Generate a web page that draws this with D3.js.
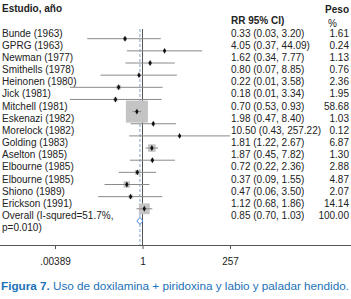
<!DOCTYPE html>
<html>
<head>
<meta charset="utf-8">
<script src="https://cdn.jsdelivr.net/npm/d3@7"></script>
<style>
  body { margin: 0; background: #fff; }
  text { font-family: "Liberation Sans", Arial, sans-serif; }
</style>
</head>
<body>
<div id="chart"></div>
<script>
const studies = ["Bunde (1963)", "GPRG (1963)", "Newman (1977)", "Smithells (1978)", "Heinonen (1980)",
  "Jick (1981)", "Mitchell (1981)", "Eskenazi (1982)", "Morelock (1982)", "Golding (1983)",
  "Aselton (1985)", "Elbourne (1985)", "Elbourne (1985)", "Shiono (1989)", "Erickson (1991)"];
const rr = [0.33, 4.05, 1.62, 0.80, 0.22, 0.18, 0.70, 1.98, 10.50, 1.81, 1.87, 0.72, 0.37, 0.47, 1.12];
const lo = [0.03, 0.37, 0.34, 0.07, 0.01, 0.01, 0.53, 0.47, 0.43, 1.22, 0.45, 0.22, 0.09, 0.06, 0.68];
const hi = [3.20, 44.09, 7.77, 8.85, 3.58, 3.34, 0.93, 8.40, 257.22, 2.67, 7.82, 2.36, 1.55, 3.50, 1.86];
const weight = [1.61, 0.24, 1.13, 0.76, 2.36, 1.95, 58.68, 1.03, 0.12, 6.87, 1.30, 2.88, 4.87, 2.07, 14.14];
const overall = { rr: 0.85, lo: 0.70, hi: 1.03, weight: 100.00 };
const tickValues = [0.00389, 1, 257];
const tickLabels = [".00389", "1", "257"];

const W = 351, H = 299;
const svg = d3.select("#chart").append("svg")
  .attr("width", W).attr("height", H);

const x = d3.scaleLog().domain([0.00389, 257]).range([55, 230]);
const y = d3.scaleLinear().domain([0, 15]).range([38.7, 38.7 + 12.15 * 15]);
const axisY = 245;
const fmt = d3.format(".2f");

// headers
svg.append("text").attr("x", 2).attr("y", 12)
  .style("font-size", "10px").style("font-weight", "bold").attr("fill", "#222")
  .text("Estudio, año");
svg.append("text").attr("x", 231).attr("y", 24)
  .style("font-size", "10px").style("font-weight", "bold").attr("fill", "#222")
  .text("RR 95% CI)");
svg.append("text").attr("x", 349).attr("y", 13).attr("text-anchor", "end")
  .style("font-size", "10px").style("font-weight", "bold").attr("fill", "#222")
  .text("Peso");
svg.append("text").attr("x", 337).attr("y", 27).attr("text-anchor", "end")
  .style("font-size", "10px").attr("fill", "#222")
  .text("%");

// reference lines
svg.append("line")
  .attr("x1", x(overall.rr)).attr("x2", x(overall.rr))
  .attr("y1", 29).attr("y2", axisY)
  .attr("stroke", "#9bb3d9").attr("stroke-width", 1.2).attr("stroke-dasharray", "3,2");
svg.append("line")
  .attr("x1", x(1)).attr("x2", x(1))
  .attr("y1", 29).attr("y2", axisY)
  .attr("stroke", "#555").attr("stroke-width", 1);

// study rows
const rows = studies.map((s, i) => ({ s, rr: rr[i], lo: lo[i], hi: hi[i], w: weight[i], i }));

const g = svg.append("g");
g.selectAll("rect.box").data(rows).join("rect")
  .attr("class", "box")
  .attr("x", d => x(d.rr) - Math.sqrt(d.w) * 1.44)
  .attr("y", d => y(d.i) - Math.sqrt(d.w) * 1.44)
  .attr("width", d => Math.sqrt(d.w) * 2.88)
  .attr("height", d => Math.sqrt(d.w) * 2.88)
  .attr("fill", "#c4c4c4");

g.selectAll("line.ci").data(rows).join("line")
  .attr("class", "ci")
  .attr("x1", d => x(d.lo)).attr("x2", d => x(d.hi))
  .attr("y1", d => y(d.i)).attr("y2", d => y(d.i))
  .attr("stroke", "#8a8a8a").attr("stroke-width", 1);

g.selectAll("path.pt").data(rows).join("path")
  .attr("class", "pt")
  .attr("transform", d => `translate(${x(d.rr)},${y(d.i)})`)
  .attr("d", d3.symbol(d3.symbolDiamond, 10))
  .attr("fill", "#111");

g.selectAll("text.lab").data(rows).join("text")
  .attr("class", "lab")
  .attr("x", 2).attr("y", d => y(d.i) - 2)
  .style("font-size", "10px").attr("fill", "#222")
  .text(d => d.s);

g.selectAll("text.est").data(rows).join("text")
  .attr("class", "est")
  .attr("x", 231).attr("y", d => y(d.i) - 2)
  .style("font-size", "10px").attr("fill", "#222")
  .text(d => `${fmt(d.rr)} (${fmt(d.lo)}, ${fmt(d.hi)})`);

g.selectAll("text.wt").data(rows).join("text")
  .attr("class", "wt")
  .attr("x", 349).attr("y", d => y(d.i) - 2).attr("text-anchor", "end")
  .style("font-size", "10px").attr("fill", "#222")
  .text(d => fmt(d.w));

// overall
const oy = y(15);
svg.append("path")
  .attr("d", `M${x(overall.lo)},${oy} L${x(overall.rr)},${oy - 3.5} L${x(overall.hi)},${oy} L${x(overall.rr)},${oy + 3.5} Z`)
  .attr("fill", "#fff").attr("stroke", "#4a86cf").attr("stroke-width", 1);
svg.append("text").attr("x", 2).attr("y", oy - 2)
  .style("font-size", "10px").attr("fill", "#222")
  .text("Overall (I-squred=51.7%,");
svg.append("text").attr("x", 2).attr("y", oy + 10)
  .style("font-size", "10px").attr("fill", "#222")
  .text("p=0.010)");
svg.append("text").attr("x", 231).attr("y", oy - 2)
  .style("font-size", "10px").attr("fill", "#222")
  .text(`${fmt(overall.rr)} (${fmt(overall.lo)}, ${fmt(overall.hi)})`);
svg.append("text").attr("x", 349).attr("y", oy - 2).attr("text-anchor", "end")
  .style("font-size", "10px").attr("fill", "#222")
  .text(fmt(overall.weight));

// axis
svg.append("line").attr("x1", 0).attr("x2", W).attr("y1", axisY + 0.5).attr("y2", axisY + 0.5)
  .attr("stroke", "#555");
const axis = svg.append("g")
  .attr("transform", `translate(0,${axisY})`)
  .call(d3.axisBottom(x).tickValues(tickValues).tickSize(4).tickPadding(9)
    .tickFormat((d, i) => tickLabels[i]));
axis.select(".domain").remove();
axis.selectAll("line").attr("stroke", "#555");
axis.selectAll("text").style("font-size", "10px").style("font-family", "Liberation Sans, Arial, sans-serif").attr("fill", "#222");

// caption
const cap = svg.append("text").attr("x", 1).attr("y", 290)
  .style("font-size", "11.7px").attr("fill", "#1b72b8");
cap.append("tspan").style("font-weight", "bold").text("Figura 7.");
cap.append("tspan").text(" Uso de doxilamina + piridoxina y labio y paladar hendido.");
</script>
</body>
</html>
